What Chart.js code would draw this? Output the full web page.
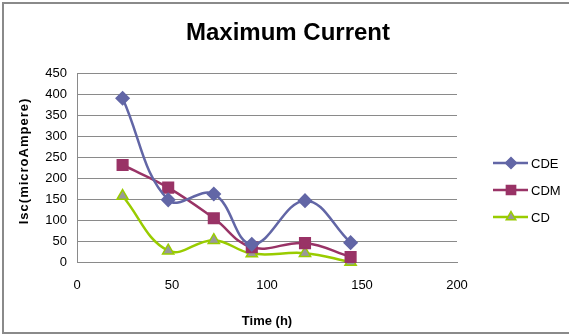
<!DOCTYPE html>
<html>
<head>
<meta charset="utf-8">
<script src="https://cdn.jsdelivr.net/npm/chart.js@4/dist/chart.umd.min.js"></script>
<style>
  html, body { margin: 0; padding: 0; background: #fff; }
  #wrap { width: 569px; height: 335px; }
</style>
</head>
<body>
<div id="wrap"><canvas id="chart" width="569" height="335"></canvas></div>
<script>
// time (h) for each measurement
var hours = [24, 48, 72, 92, 120, 144];
var cde = [390, 148, 162, 42, 146, 46];
var cdm = [231, 177, 104, 35, 45, 12];
var cd = [157, 27, 52, 20, 21, 0];
var xTicks = [0, 50, 100, 150, 200];
var yTicks = [0, 50, 100, 150, 200, 250, 300, 350, 400, 450];

function toPoints(ys) {
    return hours.map(function(h, i) { return { x: h, y: ys[i] }; });
}

var series = [
    { label: 'CDE', data: cde, color: '#6266a6', fill: '#6266a6', style: 'rectRot', radius: 6.5 },
    { label: 'CDM', data: cdm, color: '#993366', fill: '#993366', style: 'rect', radius: 7.5 },
    { label: 'CD', data: cd, color: '#99cc00', fill: '#999999', style: 'triangle', radius: 6.5 }
];

var chartFont = 'Liberation Sans, Arial, sans-serif';

// title, axis titles, legend and frame drawn the way the spreadsheet does it
var decorations = {
    id: 'decorations',
    afterDraw: function(chart) {
        var ctx = chart.ctx;
        ctx.save();
        ctx.strokeStyle = '#8a8a8a';
        ctx.lineWidth = 2;
        ctx.strokeRect(3, 3, 600, 330);

        ctx.fillStyle = '#000';
        ctx.font = 'bold 24px ' + chartFont;
        ctx.textAlign = 'center';
        ctx.textBaseline = 'alphabetic';
        ctx.fillText('Maximum Current', 288, 40);

        ctx.font = 'bold 13px ' + chartFont;
        ctx.textBaseline = 'middle';
        ctx.fillText('Time (h)', 267, 321);

        ctx.save();
        ctx.translate(24, 161);
        ctx.rotate(-Math.PI / 2);
        ctx.letterSpacing = '1px';
        ctx.fillText('Isc(microAmpere)', 0, 0);
        ctx.restore();

        ctx.font = '13px ' + chartFont;
        ctx.textAlign = 'left';
        ctx.textBaseline = 'middle';
        series.forEach(function(s, i) {
            var y = 163 + i * 27;
            ctx.strokeStyle = s.color;
            ctx.lineWidth = 2.5;
            ctx.beginPath();
            ctx.moveTo(493, y);
            ctx.lineTo(528, y);
            ctx.stroke();
            ctx.fillStyle = s.fill;
            ctx.strokeStyle = s.color;
            ctx.lineWidth = 1.5;
            Chart.helpers.drawPoint(ctx, { pointStyle: s.style, radius: s.radius - 1, borderWidth: 1.5, rotation: 0 }, 511, y);
            ctx.fillStyle = '#000';
            ctx.fillText(s.label, 531, y + 1);
        });
        ctx.restore();
    }
};

new Chart(document.getElementById('chart'), {
    type: 'line',
    data: {
        datasets: series.map(function(s) {
            return {
                label: s.label,
                data: toPoints(s.data),
                borderColor: s.color,
                backgroundColor: s.fill,
                pointBackgroundColor: s.fill,
                pointBorderColor: s.color,
                pointBorderWidth: 1.5,
                pointStyle: s.style,
                pointRadius: s.radius,
                borderWidth: 2.5,
                tension: 0.4,
                clip: false
            };
        })
    },
    options: {
        responsive: false,
        animation: false,
        layout: { padding: { left: 0, top: 73, right: 112, bottom: 0 } },
        plugins: {
            legend: { display: false },
            title: { display: false },
            tooltip: { enabled: false }
        },
        scales: {
            x: {
                type: 'linear',
                min: 0,
                max: 200,
                afterBuildTicks: function(scale) {
                    scale.ticks = xTicks.map(function(v) { return { value: v }; });
                },
                afterFit: function(scale) { scale.height = 73; },
                grid: { display: false, drawTicks: false },
                border: { display: true, color: '#8a8a8a', width: 1 },
                ticks: { padding: 16, color: '#000', font: { family: chartFont, size: 13 } }
            },
            y: {
                min: 0,
                max: 450,
                afterBuildTicks: function(scale) {
                    scale.ticks = yTicks.map(function(v) { return { value: v }; });
                },
                afterFit: function(scale) { scale.width = 77; },
                grid: { color: '#8a8a8a', drawTicks: false },
                border: { display: true, color: '#8a8a8a', width: 1 },
                ticks: { padding: 10, color: '#000', font: { family: chartFont, size: 13 } }
            }
        }
    },
    plugins: [decorations]
});
</script>
</body>
</html>
